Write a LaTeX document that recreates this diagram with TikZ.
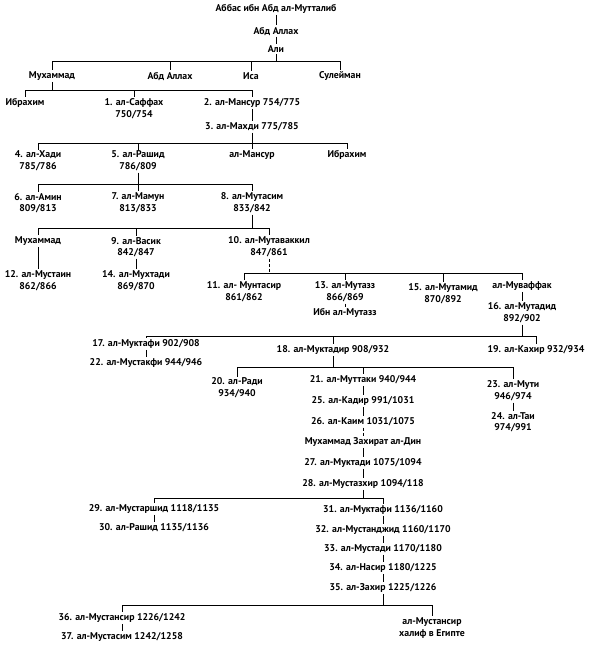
\documentclass[tikz,border=0pt]{standalone}
\usepackage{fontspec}
\setmainfont{PT Sans}
\begin{document}
\begin{tikzpicture}[x=1pt,y=-1pt,
  nm/.style={font=\bfseries\fontsize{9.8}{11}\selectfont, inner sep=1.2pt},
  ln/.style={line width=1pt},
  dl/.style={line width=1pt, densely dashed}]
\useasboundingbox (0,0) rectangle (594,645);
% top
\node[nm] (abbas) at (276,9) {Аббас ибн Абд ал-Мутталиб};
\node[nm] (abdallahA) at (276,31) {Абд Аллах};
\node[nm] (ali) at (276,49) {Али};
\draw[ln] (abbas) -- (abdallahA);
\draw[ln] (abdallahA) -- (ali);
% row 2
\coordinate (j1) at (276,61);
\node[nm] (muhA) at (52,76) {Мухаммад};
\node[nm] (abdallahB) at (170,76) {Абд Аллах};
\node[nm] (isa) at (251,76) {Иса};
\node[nm] (sul) at (340,76) {Сулейман};
\draw[ln] (ali) -- (j1);
\foreach \c in {muhA,abdallahB,isa,sul} \draw[ln] (j1) -| (\c);
% row 3
\coordinate (j2) at (52,90);
\node[nm] (ibrA) at (25,103) {Ибрахим};
\node[nm] (saffah) at (134,103) {1. ал-Саффах};
\node[nm] (saffahd) at (134,115) {750/754};
\node[nm] (mansurA) at (252,103) {2. ал-Мансур 754/775};
\node[nm] (mahdi) at (252,127) {3. ал-Махди 775/785};
\draw[ln] (muhA) -- (j2);
\foreach \c in {ibrA,saffah,mansurA} \draw[ln] (j2) -| (\c);
\draw[ln] (mansurA) -- (mahdi);
% row 4
\coordinate (j3) at (252,143);
\node[nm] (hadi) at (38,155) {4. ал-Хади};
\node[nm] (hadid) at (38,167) {785/786};
\node[nm] (rashid) at (138,155) {5. ал-Рашид};
\node[nm] (rashidd) at (138,167) {786/809};
\node[nm] (mansurB) at (252,155) {ал-Мансур};
\node[nm] (ibrB) at (347,155) {Ибрахим};
\draw[ln] (mahdi) -- (j3);
\foreach \c in {hadi,rashid,mansurB,ibrB} \draw[ln] (j3) -| (\c);
% row 5
\coordinate (j4) at (138,184);
\node[nm] (amin) at (38,197) {6. ал-Амин};
\node[nm] (amind) at (38,209) {809/813};
\node[nm] (mamun) at (138,197) {7. ал-Мамун};
\node[nm] (mamund) at (138,209) {813/833};
\node[nm] (mutasim) at (252,197) {8. ал-Мутасим};
\node[nm] (mutasimd) at (252,209) {833/842};
\draw[ln] (rashidd) -- (j4);
\foreach \c in {amin,mamun,mutasim} \draw[ln] (j4) -| (\c);
% row 6
\coordinate (j5) at (252,228);
\node[nm] (muhB) at (38,241) {Мухаммад};
\node[nm] (wasiq) at (136,241) {9. ал-Васик};
\node[nm] (wasiqd) at (136,253) {842/847};
\node[nm] (mutawakkil) at (269,241) {10. ал-Мутаваккил};
\node[nm] (mutawakkild) at (269,253) {847/861};
\draw[ln] (mutasimd) -- (j5);
\foreach \c in {muhB,wasiq,mutawakkil} \draw[ln] (j5) -| (\c);
\node[nm] (mustain) at (38,275) {12. ал-Мустаин};
\node[nm] (mustaind) at (38,287) {862/866};
\draw[ln] (muhB) -- (mustain);
\node[nm] (muhtadi) at (136,275) {14. ал-Мухтади};
\node[nm] (muhtadid) at (136,287) {869/870};
\draw[ln] (wasiqd) -- (muhtadi);
% row 7
\coordinate (j6) at (269,273);
\node[nm] (muntasir) at (244,286) {11. ал- Мунтасир};
\node[nm] (muntasird) at (244,298) {861/862};
\node[nm] (mutazz) at (345,286) {13. ал-Мутазз};
\node[nm] (mutazzd) at (345,298) {866/869};
\node[nm] (mutamid) at (443,288) {15. ал-Мутамид};
\node[nm] (mutamidd) at (443,300) {870/892};
\node[nm] (muwaffaq) at (522,286) {ал-Муваффак};
\draw[dl] (mutawakkild) -- (j6);
\foreach \c in {muntasir,mutazz,mutamid,muwaffaq} \draw[ln] (j6) -| (\c);
\node[nm] (ibnmutazz) at (345,313) {Ибн ал-Мутазз};
\draw[ln] (mutazzd) -- (ibnmutazz);
\node[nm] (mutadid) at (522,307) {16. ал-Мутадид};
\node[nm] (mutadidd) at (522,319) {892/902};
\draw[ln] (muwaffaq) -- (mutadid);
% row 8
\coordinate (j7) at (522,336);
\node[nm] (muktafiA) at (146,344) {17. ал-Муктафи 902/908};
\node[nm] (muqtadir) at (333,350) {18. ал-Муктадир 908/932};
\node[nm] (qahir) at (536,350) {19. ал-Кахир 932/934};
\draw[ln] (mutadidd) -- (j7);
\foreach \c in {muktafiA,muqtadir,qahir} \draw[ln] (j7) -| (\c);
\node[nm] (mustakfi) at (146,363) {22. ал-Мустакфи 944/946};
\draw[ln] (muktafiA) -- (mustakfi);
% row 9
\coordinate (j8) at (333,367);
\node[nm] (radi) at (237,382) {20. ал-Ради};
\node[nm] (radid) at (237,394) {934/940};
\node[nm] (muttaqi) at (363,380) {21. ал-Муттаки 940/944};
\node[nm] (muti) at (513,385) {23. ал-Мути};
\node[nm] (mutid) at (513,397) {946/974};
\draw[ln] (muqtadir) -- (j8);
\foreach \c in {radi,muttaqi,muti} \draw[ln] (j8) -| (\c);
\node[nm] (tai) at (513,416) {24. ал-Таи};
\node[nm] (taid) at (513,428) {974/991};
\draw[ln] (mutid) -- (tai);
% central chain
\node[nm] (qadir) at (363,401) {25. ал-Кадир 991/1031};
\node[nm] (qaim) at (363,422) {26. ал-Каим 1031/1075};
\node[nm] (zakhira) at (363,442) {Мухаммад Захират ал-Дин};
\node[nm] (muqtadi) at (363,463) {27. ал-Муктади 1075/1094};
\node[nm] (mustazhir) at (363,484) {28. ал-Мустазхир 1094/118};
\draw[ln] (muttaqi) -- (qadir);
\draw[ln] (qadir) -- (qaim);
\draw[dl] (qaim) -- (zakhira);
\draw[ln] (zakhira) -- (muqtadi);
\draw[ln] (muqtadi) -- (mustazhir);
% row 10
\coordinate (j9) at (363,498);
\node[nm] (mustarshid) at (154,509) {29. ал-Мустаршид 1118/1135};
\node[nm] (rashidB) at (154,528) {30. ал-Рашид 1135/1136};
\node[nm] (muktafiB) at (383,510) {31. ал-Муктафи 1136/1160};
\draw[ln] (mustazhir) -- (j9);
\foreach \c in {mustarshid,muktafiB} \draw[ln] (j9) -| (\c);
\draw[ln] (mustarshid) -- (rashidB);
\node[nm] (mustanjid) at (383,530) {32. ал-Мустанджид 1160/1170};
\node[nm] (mustadi) at (383,549) {33. ал-Мустади 1170/1180};
\node[nm] (nasir) at (383,568) {34. ал-Насир 1180/1225};
\node[nm] (zahir) at (383,588) {35. ал-Захир 1225/1226};
\draw[ln] (muktafiB) -- (mustanjid);
\draw[ln] (mustanjid) -- (mustadi);
\draw[ln] (mustadi) -- (nasir);
\draw[ln] (nasir) -- (zahir);
% row 11
\coordinate (j10) at (383,605);
\node[nm] (mustansirA) at (122,618) {36. ал-Мустансир 1226/1242};
\node[nm] (mustasim) at (122,637) {37. ал-Мустасим 1242/1258};
\node[nm] (mustansirB) at (432,622) {ал-Мустансир};
\node[nm] (mustansirBd) at (432,634) {халиф в Египте};
\draw[ln] (zahir) -- (j10);
\foreach \c in {mustansirA,mustansirB} \draw[ln] (j10) -| (\c);
\draw[ln] (mustansirA) -- (mustasim);
\end{tikzpicture}
\end{document}
